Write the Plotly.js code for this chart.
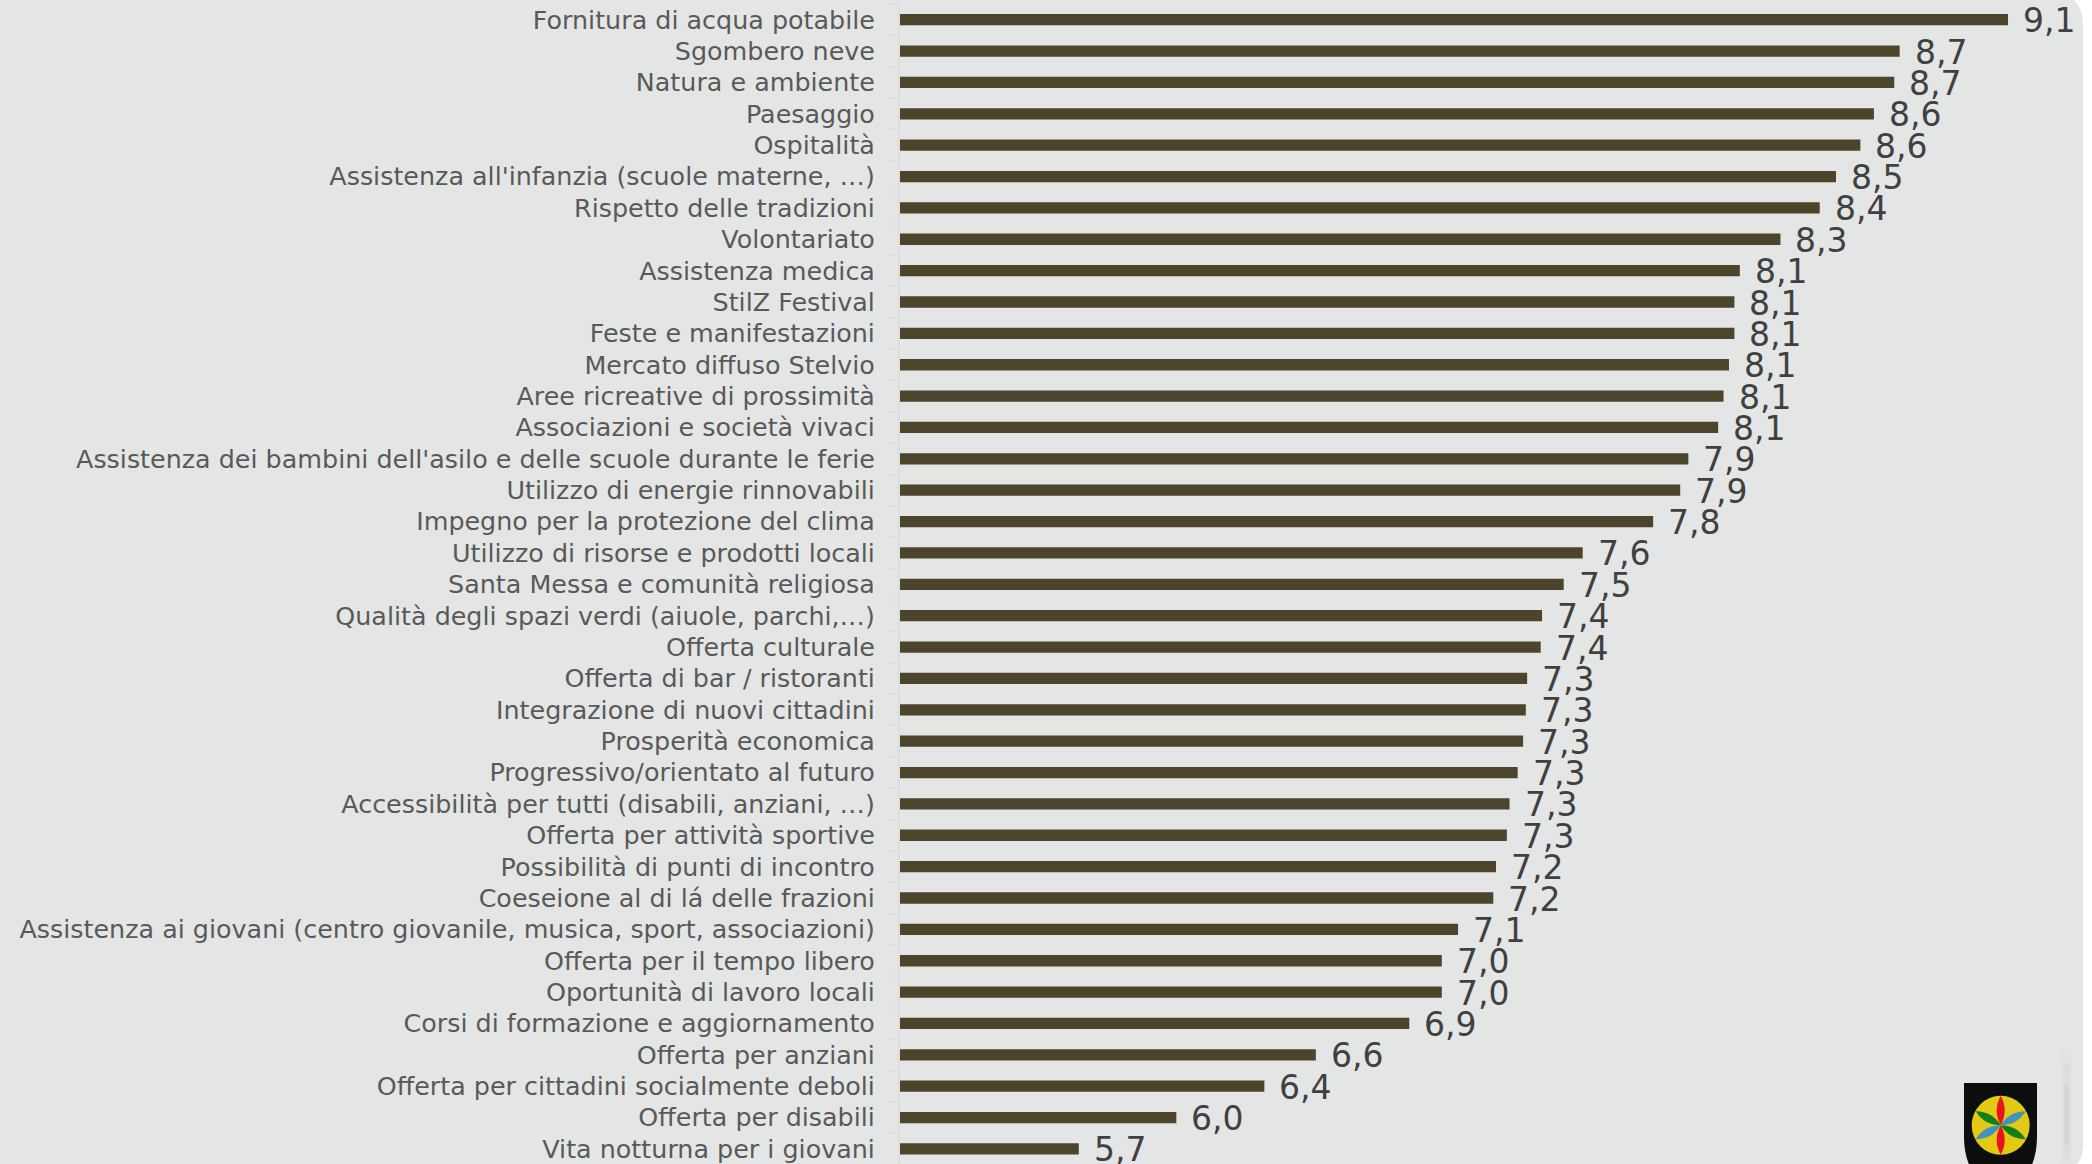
<!DOCTYPE html>
<html><head><meta charset="utf-8">
<script src="https://cdn.plot.ly/plotly-3.0.1.min.js"></script>
<style>html,body{margin:0;padding:0;background:#fff;overflow:hidden}#c{width:2092px;height:1164px}</style>
</head><body><div id="c"></div>
<script>
const categories = ["Fornitura di acqua potabile","Sgombero neve","Natura e ambiente","Paesaggio","Ospitalità","Assistenza all'infanzia (scuole materne, …)","Rispetto delle tradizioni","Volontariato","Assistenza medica","StilZ Festival","Feste e manifestazioni","Mercato diffuso Stelvio","Aree ricreative di prossimità","Associazioni e società vivaci","Assistenza dei bambini dell'asilo e delle scuole durante le ferie","Utilizzo di energie rinnovabili","Impegno per la protezione del clima","Utilizzo di risorse e prodotti locali","Santa Messa e comunità religiosa","Qualità degli spazi verdi (aiuole, parchi,…)","Offerta culturale","Offerta di bar / ristoranti","Integrazione di nuovi cittadini","Prosperità economica","Progressivo/orientato al futuro","Accessibilità per tutti (disabili, anziani, …)","Offerta per attività sportive","Possibilità di punti di incontro","Coeseione al di lá delle frazioni","Assistenza ai giovani (centro giovanile, musica, sport, associazioni)","Offerta per il tempo libero","Oportunità di lavoro locali","Corsi di formazione e aggiornamento","Offerta per anziani","Offerta per cittadini socialmente deboli","Offerta per disabili","Vita notturna per i giovani"];
const values = [9.09,8.69,8.67,8.595,8.545,8.455,8.395,8.25,8.10,8.08,8.08,8.06,8.04,8.02,7.91,7.88,7.78,7.52,7.45,7.37,7.365,7.315,7.31,7.30,7.28,7.25,7.24,7.20,7.19,7.06,7.00,7.00,6.88,6.535,6.345,6.02,5.66];
const valueLabels = ["9,1","8,7","8,7","8,6","8,6","8,5","8,4","8,3","8,1","8,1","8,1","8,1","8,1","8,1","7,9","7,9","7,8","7,6","7,5","7,4","7,4","7,3","7,3","7,3","7,3","7,3","7,3","7,2","7,2","7,1","7,0","7,0","6,9","6,6","6,4","6,0","5,7"];

const W = 2092, H = 1164, ML = 900, MT = 4.3;
const X = p => ((p - ML) / (W - ML)).toFixed(5), Y = p => (1 - (p - MT) / (H - MT)).toFixed(5);
const P = (cmd, x, y) => cmd + X(x) + ',' + Y(y);
const Q = (x1, y1, x2, y2) => 'Q' + X(x1) + ',' + Y(y1) + ' ' + X(x2) + ',' + Y(y2);

function petal(cx, cy, tx, ty, hw, color) {
  const mx = (cx+tx)/2, my = (cy+ty)/2, dx = tx-cx, dy = ty-cy, L = Math.hypot(dx,dy);
  const nx = -dy/L*hw*2, ny = dx/L*hw*2;
  return {type:'path', xref:'paper', yref:'paper', layer:'above', line:{width:0}, fillcolor:color,
    path: P('M',cx,cy)+' '+Q(mx+nx,my+ny,tx,ty)+' '+Q(mx-nx,my-ny,cx,cy)+' Z'};
}
const rectShade = (x0,x1,y0,y1,a) => ({type:'rect',xref:'paper',yref:'paper',layer:'below',line:{width:0},fillcolor:`rgba(0,0,0,${a})`,x0:X(x0),x1:X(x1),y0:Y(y0),y1:Y(y1)});
const cx = 2000.7, cy = 1125.3;
const shapes = [
  {type:'path',xref:'paper',yref:'paper',layer:'below',line:{width:0},fillcolor:'#e4e6e5', path:
    P('M',0,-5)+' '+P('L',2056,-5)+' '+Q(2083,-5,2083,27)+' '+P('L',2083,1145)+' '+Q(2083,1172,2056,1172)+' '+P('L',0,1172)+' Z'},
  rectShade(2061,2072,1050,1164,0.012),
  rectShade(2063,2070,1065,1160,0.02),
  rectShade(2064,2069,1085,1145,0.03),
  {type:'path',xref:'paper',yref:'paper',layer:'above',line:{width:0},fillcolor:'#0c0e0d',
    path:P('M',1964,1083)+' '+P('L',2037,1083)+' '+P('L',2037,1137)+' '+Q(2037,1158,2028,1172)+' '+P('L',1973,1172)+' '+Q(1964,1158,1964,1137)+' Z'},
  {type:'circle',xref:'paper',yref:'paper',layer:'above',line:{width:0},fillcolor:'#e3c913',x0:X(cx-29),x1:X(cx+29),y0:Y(cy+29.5),y1:Y(cy-29.5)},
  petal(cx,cy,cx,cy-29.5,4,'#e8141c'), petal(cx,cy,cx,cy+29.5,4,'#e8141c'),
  petal(cx,cy,cx+25,cy-14,4,'#3f93c2'), petal(cx,cy,cx-25,cy+14,4,'#3f93c2'),
  petal(cx,cy,cx-25,cy-14,4,'#127f1d'), petal(cx,cy,cx+25,cy+14,4,'#127f1d')
];

const annotations = categories.map((c,i) => ({
  x: values[i], y: c, xref:'x', yref:'y', text: valueLabels[i], showarrow:false,
  xanchor:'left', yanchor:'middle', xshift: 13, yshift: -1,
  font:{family:'"DejaVu Sans", sans-serif', size:33, color:'#404040'}
}));

Plotly.newPlot('c', [{
  type:'bar', orientation:'h', x: values, y: categories,
  marker:{color:'#4c452b'}, width:0.36, hoverinfo:'skip'
}], {
  width:W, height:H, paper_bgcolor:'#ffffff', plot_bgcolor:'rgba(0,0,0,0)', showlegend:false,
  margin:{l:ML,r:0,t:MT,b:0,pad:0}, shapes, annotations,
  xaxis:{range:[5,9.4], visible:false, fixedrange:true},
  yaxis:{type:'category', categoryorder:'array', categoryarray:categories, range:[36.48,-0.5], tickmode:'array', tickvals:categories, ticktext:categories,
    tickson:'boundaries', ticks:'outside', ticklen:8, tickwidth:2, tickcolor:'#dcdddd', showline:true, linecolor:'#dcdddd', linewidth:2,
    showgrid:false, zeroline:false, automargin:false, ticklabelstandoff:18,
    tickfont:{family:'"DejaVu Sans", sans-serif', size:25.4, color:'#595959'}}
}, {displayModeBar:false, staticPlot:true});
</script></body></html>
